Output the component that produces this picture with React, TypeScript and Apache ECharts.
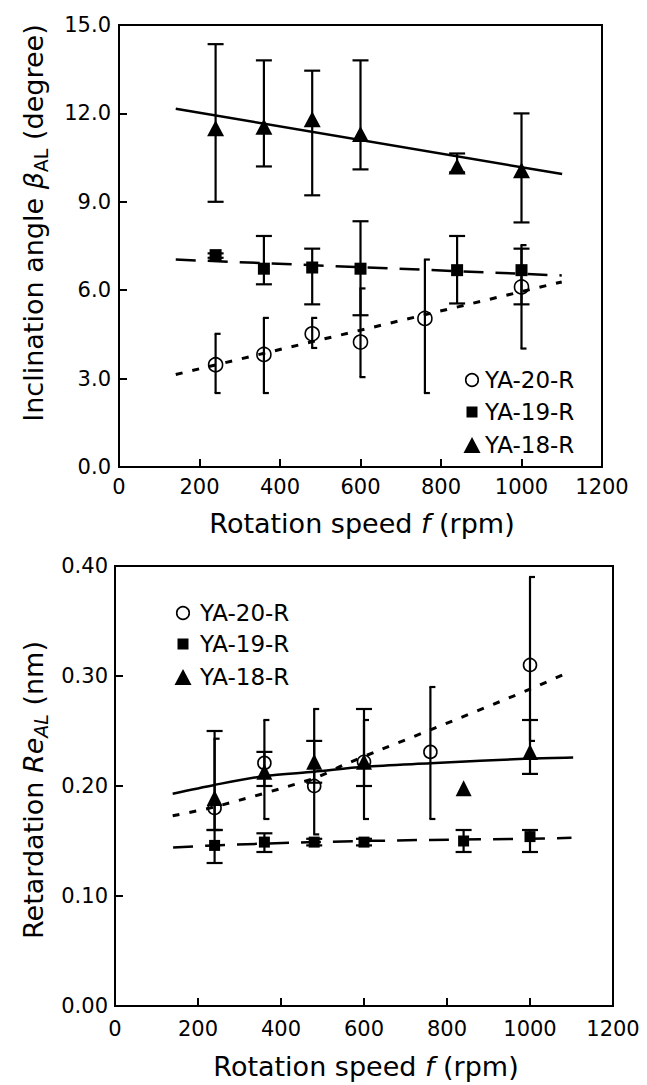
import React, { useEffect, useRef } from "react";
import * as echarts from "echarts";

// ---------- shared ----------
const seriesNames = ["YA-20-R", "YA-19-R", "YA-18-R"];
const xTickValues = [0, 200, 400, 600, 800, 1000, 1200];

// ---------- top chart: inclination angle (degree) ----------
const topYTicks = [0, 3, 6, 9, 12, 15];
const speed20Top = [240, 360, 480, 600, 760, 1000];
const beta20 = [3.47, 3.82, 4.52, 4.24, 5.04, 6.11];
const beta20Low = [2.51, 2.51, 4.04, 3.05, 2.51, 4.02];
const beta20High = [4.52, 5.06, 5.06, 6.06, 7.04, 7.53];

const speed19Top = [240, 360, 480, 600, 840, 1000];
const beta19 = [7.19, 6.73, 6.77, 6.73, 6.68, 6.68];
const beta19Low = [7.1, 6.2, 5.52, 5.15, 5.55, 5.52];
const beta19High = [7.25, 7.84, 7.41, 8.34, 7.84, 7.41];

const speed18Top = [240, 360, 480, 600, 840, 1000];
const beta18 = [11.5, 11.55, 11.8, 11.3, 10.2, 10.07];
const beta18Low = [9.0, 10.2, 9.22, 10.1, 10.0, 8.3];
const beta18High = [14.35, 13.8, 13.45, 13.8, 10.64, 12.0];

const fit20TopX = [141, 1100];
const fit20TopY = [3.14, 6.28];
const fit19TopX = [141, 1100];
const fit19TopY = [7.04, 6.5];
const fit18TopX = [141, 1101];
const fit18TopY = [12.16, 9.94];

// ---------- bottom chart: retardation (nm) ----------
const bottomYTicks = [0, 0.1, 0.2, 0.3, 0.4];
const speed20Bot = [240, 360, 480, 600, 760, 1000];
const re20 = [0.18, 0.221, 0.2, 0.222, 0.231, 0.31];
const re20Low = [0.16, 0.17, 0.156, 0.17, 0.17, 0.241];
const re20High = [0.243, 0.26, 0.27, 0.26, 0.29, 0.39];

const speed19Bot = [240, 360, 480, 600, 840, 1000];
const re19 = [0.146, 0.149, 0.149, 0.149, 0.15, 0.154];
const re19Low = [0.13, 0.14, 0.146, 0.146, 0.14, 0.14];
const re19High = [0.16, 0.157, 0.152, 0.152, 0.16, 0.16];

const speed18Bot = [240, 360, 480, 600, 840, 1000];
const re18 = [0.189, 0.213, 0.222, 0.222, 0.198, 0.231];
const re18Low = [0.16, 0.2, 0.203, 0.2, 0.198, 0.211];
const re18High = [0.25, 0.231, 0.241, 0.27, 0.198, 0.26];

const fit20BotX = [139, 240, 480, 550, 640, 760, 1000, 1096];
const fit20BotY = [0.173, 0.181, 0.207, 0.219, 0.233, 0.251, 0.288, 0.304];
const fit19BotX = [140, 240, 480, 760, 1000, 1100];
const fit19BotY = [0.144, 0.146, 0.149, 0.151, 0.152, 0.153];
const fit18BotX = [139, 240, 360, 480, 600, 760, 1000, 1104];
const fit18BotY = [0.193, 0.201, 0.209, 0.213, 0.2175, 0.2206, 0.225, 0.226];

const FONT = "'DejaVu Sans', 'Liberation Sans', sans-serif";

const zip2 = (a: number[], b: number[]) => a.map((v, i) => [v, b[i]]);
const zip3 = (a: number[], b: number[], c: number[]) => a.map((v, i) => [v, b[i], c[i]]);

const errorRender = (half: boolean) => (params: any, api: any) => {
  const x = api.value(0);
  const lo = api.value(1);
  const hi = api.value(2);
  if (!(hi > lo)) return { type: "group", children: [] };
  const pLo = api.coord([x, lo]);
  const pHi = api.coord([x, hi]);
  const capL = half ? 1 : 8;
  const capR = half ? 5 : 8;
  const style = { stroke: "#000", lineWidth: 2.2, fill: "none" };
  return {
    type: "group",
    children: [
      { type: "line", shape: { x1: pLo[0], y1: pLo[1], x2: pHi[0], y2: pHi[1] }, style },
      { type: "line", shape: { x1: pHi[0] - capL, y1: pHi[1], x2: pHi[0] + capR, y2: pHi[1] }, style },
      { type: "line", shape: { x1: pLo[0] - capL, y1: pLo[1], x2: pLo[0] + capR, y2: pLo[1] }, style },
    ],
  };
};

function panelSeries(
  g: number,
  fits: { x: number[]; y: number[] }[],
  pts: { x: number[]; y: number[]; lo: number[]; hi: number[] }[],
  sizes: { circle: number; rect: number; tri: number[] }
) {
  const dashes: any[] = [[7, 10], [20, 12], "solid"];
  const widths = [3, 2.5, 2.5];
  const out: any[] = [];
  fits.forEach((f, i) => {
    out.push({
      type: "line",
      xAxisIndex: g,
      yAxisIndex: g,
      data: zip2(f.x, f.y),
      showSymbol: false,
      smooth: f.x.length > 2 ? 0.3 : false,
      lineStyle: { color: "#000", width: widths[i], type: dashes[i], opacity: 1 },
      z: 2,
      silent: true,
    });
  });
  pts.forEach((p, i) => {
    out.push({
      type: "custom",
      xAxisIndex: g,
      yAxisIndex: g,
      renderItem: errorRender(i === 0),
      data: zip3(p.x, p.lo, p.hi),
      encode: { x: 0, y: [1, 2] },
      clip: false,
      z: 3,
      silent: true,
    });
  });
  pts.forEach((p, i) => {
    const base: any = {
      type: "scatter",
      name: seriesNames[i],
      xAxisIndex: g,
      yAxisIndex: g,
      data: zip2(p.x, p.y),
      z: 4,
      silent: true,
    };
    if (i === 0) {
      base.symbol = "circle";
      base.symbolSize = sizes.circle;
      base.itemStyle = { color: "rgba(255,255,255,0)", borderColor: "#000", borderWidth: 1.6, opacity: 1 };
    } else if (i === 1) {
      base.symbol = "rect";
      base.symbolSize = sizes.rect;
      base.itemStyle = { color: "#000", opacity: 1 };
    } else {
      base.symbol = "triangle";
      base.symbolSize = sizes.tri;
      base.itemStyle = { color: "#000", opacity: 1 };
    }
    out.push(base);
  });
  return out;
}

function legendGraphics(mx: number, tx: number, ys: number[]) {
  const els: any[] = [];
  els.push({ type: "circle", shape: { cx: mx, cy: ys[0], r: 6.3 }, style: { fill: "none", stroke: "#000", lineWidth: 1.6 } });
  els.push({ type: "rect", shape: { x: mx - 5.5, y: ys[1] - 5.5, width: 11, height: 11 }, style: { fill: "#000" } });
  els.push({
    type: "polygon",
    shape: { points: [[mx, ys[2] - 8], [mx + 8.5, ys[2] + 8], [mx - 8.5, ys[2] + 8]] },
    style: { fill: "#000" },
  });
  seriesNames.forEach((n, i) => {
    els.push({
      type: "text",
      x: tx,
      y: ys[i],
      style: { text: n, fill: "#000", font: `23px ${FONT}`, align: "left", verticalAlign: "middle" },
    });
  });
  return els;
}

const titleText = (x: number, y: number, text: string, rich: any, rotation = 0) => ({
  type: "text",
  x,
  y,
  rotation,
  style: {
    text,
    fill: "#000",
    fontSize: 27,
    fontFamily: FONT,
    lineHeight: 34,
    align: "center",
    verticalAlign: "middle",
    rich,
  },
});

export default function App() {
  const ref = useRef<HTMLDivElement>(null);
  useEffect(() => {
    if (!ref.current) return;
    const chart = echarts.init(ref.current, undefined, { renderer: "svg" });

    const axisCommon = {
      axisLine: { show: true, onZero: false, lineStyle: { color: "#000", width: 2 } },
      axisTick: { show: true, inside: true, length: 8, lineStyle: { color: "#000", width: 2 } },
      splitLine: { show: false },
    };

    const xAxis = (g: number, margin: number) => ({
      type: "value",
      gridIndex: g,
      min: xTickValues[0],
      max: xTickValues[xTickValues.length - 1],
      interval: 200,
      ...axisCommon,
      axisLabel: { color: "#000", fontSize: 21, fontFamily: FONT, margin, formatter: (v: number) => String(v) },
    });

    const topSeries = panelSeries(
      0,
      [
        { x: fit20TopX, y: fit20TopY },
        { x: fit19TopX, y: fit19TopY },
        { x: fit18TopX, y: fit18TopY },
      ],
      [
        { x: speed20Top, y: beta20, lo: beta20Low, hi: beta20High },
        { x: speed19Top, y: beta19, lo: beta19Low, hi: beta19High },
        { x: speed18Top, y: beta18, lo: beta18Low, hi: beta18High },
      ],
      { circle: 14, rect: 12, tri: [17, 16] }
    );
    const botSeries = panelSeries(
      1,
      [
        { x: fit20BotX, y: fit20BotY },
        { x: fit19BotX, y: fit19BotY },
        { x: fit18BotX, y: fit18BotY },
      ],
      [
        { x: speed20Bot, y: re20, lo: re20Low, hi: re20High },
        { x: speed19Bot, y: re19, lo: re19Low, hi: re19High },
        { x: speed18Bot, y: re18, lo: re18Low, hi: re18High },
      ],
      { circle: 13, rect: 11, tri: [16, 16] }
    );

    const sub = { fontSize: 19, fontFamily: FONT, lineHeight: 34, verticalAlign: "bottom" };
    const ital = { fontSize: 27, fontFamily: FONT, fontStyle: "italic", lineHeight: 34 };

    chart.setOption({
      animation: false,
      backgroundColor: "#fff",
      grid: [
        { left: 119, top: 25, width: 483, height: 442, show: true, borderColor: "#000", borderWidth: 2, containLabel: false },
        { left: 115, top: 566, width: 498, height: 440, show: true, borderColor: "#000", borderWidth: 2, containLabel: false },
      ],
      xAxis: [xAxis(0, 9), xAxis(1, 12)],
      yAxis: [
        {
          type: "value",
          gridIndex: 0,
          min: topYTicks[0],
          max: topYTicks[topYTicks.length - 1],
          interval: 3,
          ...axisCommon,
          axisLabel: { color: "#000", fontSize: 21, fontFamily: FONT, margin: 8, formatter: (v: number) => v.toFixed(1) },
        },
        {
          type: "value",
          gridIndex: 1,
          min: bottomYTicks[0],
          max: bottomYTicks[bottomYTicks.length - 1],
          interval: 0.1,
          ...axisCommon,
          axisLabel: { color: "#000", fontSize: 21, fontFamily: FONT, margin: 7, formatter: (v: number) => v.toFixed(2) },
        },
      ],
      series: [...topSeries, ...botSeries],
      graphic: [
        ...legendGraphics(472, 485, [380, 412, 445]),
        ...legendGraphics(183, 200, [613, 644, 677]),
        titleText(362, 523, "Rotation speed {i|f} (rpm)", { i: ital }),
        titleText(366, 1066, "Rotation speed {i|f} (rpm)", { i: ital }),
        titleText(33, 223, "Inclination angle {i|β}{s|AL} (degree)", { i: ital, s: sub }, Math.PI / 2),
        titleText(33, 790, "Retardation {i|Re}{si|AL} (nm)", { i: ital, si: { ...sub, fontStyle: "italic" } }, Math.PI / 2),
      ],
    });
    return () => chart.dispose();
  }, []);
  return <div ref={ref} style={{ position: "absolute", left: 0, top: 0, width: 647, height: 1085 }} />;
}
